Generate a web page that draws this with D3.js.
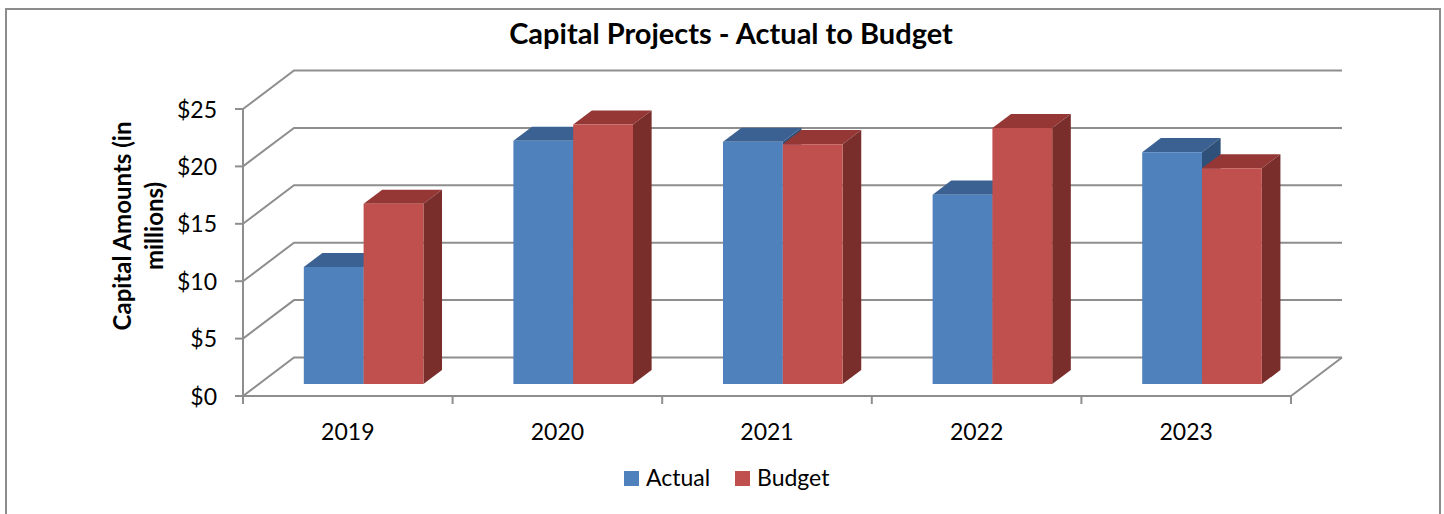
<!DOCTYPE html>
<html>
<head>
<meta charset="utf-8">
<script src="https://cdn.jsdelivr.net/npm/d3@7"></script>
<style>
  html, body { margin: 0; padding: 0; background: #fff; }
  svg { display: block; }
  text { font-family: Lato, "Open Sans", sans-serif; fill: #000; }
</style>
</head>
<body>
<svg id="chart" width="1444" height="514"></svg>
<script>
const title = "Capital Projects - Actual to Budget";
const yTitleLines = ["Capital Amounts (in", "millions)"];
const years = ["2019", "2020", "2021", "2022", "2023"];
const seriesNames = ["Actual", "Budget"];
const actual = [10.2, 21.2, 21.1, 16.5, 20.2];
const budget = [15.7, 22.6, 20.9, 22.3, 18.8];
const yTicks = [0, 5, 10, 15, 20, 25];

const colors = {
  Actual: { front: "#4F81BD", top: "#3A6191", side: "#2F5079" },
  Budget: { front: "#C0504D", top: "#953735", side: "#7A2E2C" }
};

const svg = d3.select("#chart");

// Outer frame
svg.append("rect").attr("x", 6).attr("y", 9).attr("width", 1434).attr("height", 520)
  .attr("fill", "#fff").attr("stroke", "#8c8c8c").attr("stroke-width", 2);

// 3D geometry
const depthX = 51, depthY = 38.5;
const proj = (x, y, f) => [x + depthX * f, y - depthY * f];

const x = d3.scaleBand().domain(years).range([243, 1291]).padding(0);
const y = d3.scaleLinear().domain([0, 25]).range([396, 109]);
const inner = d3.scaleBand().domain(seriesNames).range([0, 119.6]);

const gridColor = "#8e8e8e";
const g = svg.append("g");

// Gridlines: diagonal on left wall and horizontal on back wall
yTicks.forEach(t => {
  const yy = y(t);
  const back = proj(243, yy, 1);
  g.append("path")
    .attr("d", `M${243},${yy}L${back[0]},${back[1]}L${x.range()[1] + depthX},${back[1]}`)
    .attr("fill", "none").attr("stroke", gridColor).attr("stroke-width", 2);
});
// Floor right edge and front edge
{
  const x1 = x.range()[1];
  const b = proj(x1, y(0), 1);
  g.append("path").attr("d", `M${243},${y(0)}L${x1},${y(0)}L${b[0]},${b[1]}`)
    .attr("fill", "none").attr("stroke", gridColor).attr("stroke-width", 2);
}
// Value axis line and ticks
g.append("line").attr("x1", 243).attr("x2", 243).attr("y1", y(25)).attr("y2", y(0))
  .attr("stroke", gridColor).attr("stroke-width", 2);
yTicks.forEach(t => {
  g.append("line").attr("x1", 235).attr("x2", 243).attr("y1", y(t)).attr("y2", y(t))
    .attr("stroke", gridColor).attr("stroke-width", 2);
  g.append("text").attr("x", 217).attr("y", y(t) + 8.5).attr("text-anchor", "end")
    .attr("font-size", 23).text("$" + t);
});
// Category ticks
const bounds = years.map(d => x(d)).concat([x.range()[1]]);
bounds.forEach(bx => {
  g.append("line").attr("x1", bx).attr("x2", bx).attr("y1", y(0)).attr("y2", y(0) + 8)
    .attr("stroke", gridColor).attr("stroke-width", 2);
});
years.forEach(d => {
  g.append("text").attr("x", x(d) + x.bandwidth() / 2).attr("y", 439.5)
    .attr("text-anchor", "middle").attr("font-size", 23).text(d);
});

// Bars
const fFront = 0.31, fBack = 0.675;
const barData = [];
years.forEach((yr, i) => {
  barData.push({ year: yr, series: "Actual", value: actual[i] });
  barData.push({ year: yr, series: "Budget", value: budget[i] });
});
const bars = svg.append("g");
barData.forEach(d => {
  const c = colors[d.series];
  const cx = x(d.year) + x.bandwidth() / 2 - 59.8;
  const x0 = cx + inner(d.series), x1 = x0 + inner.bandwidth();
  const yTop = y(d.value), yBot = y(0);
  const fl = proj(x0, yBot, fFront), fr = proj(x1, yBot, fFront);
  const tl = proj(x0, yTop, fFront), tr = proj(x1, yTop, fFront);
  const btl = proj(x0, yTop, fBack), btr = proj(x1, yTop, fBack);
  const bbr = proj(x1, yBot, fBack);
  const pts = a => a.map(p => p.join(",")).join(" ");
  bars.append("polygon").attr("points", pts([tl, tr, btr, btl])).attr("fill", c.top);
  bars.append("polygon").attr("points", pts([tr, btr, bbr, fr])).attr("fill", c.side);
  bars.append("polygon").attr("points", pts([tl, tr, fr, fl])).attr("fill", c.front);
});

// Title
svg.append("text").attr("x", 731).attr("y", 43.5).attr("text-anchor", "middle")
  .attr("font-size", 29).attr("font-weight", "bold").text(title);

// Y axis title
const yt = svg.append("text").attr("transform", "translate(138,226) rotate(-90)")
  .attr("text-anchor", "middle").attr("font-size", 24).attr("font-weight", "bold");
yTitleLines.forEach((l, i) => {
  yt.append("tspan").attr("x", 0).attr("y", i === 0 ? -7 : 25).text(l);
});

// Legend
const leg = svg.append("g");
const legItems = [{ name: "Actual", x: 624 }, { name: "Budget", x: 735 }];
legItems.forEach(it => {
  leg.append("rect").attr("x", it.x).attr("y", 471).attr("width", 15).attr("height", 15)
    .attr("fill", colors[it.name].front);
  leg.append("text").attr("x", it.x + 22).attr("y", 485.5).attr("font-size", 23).text(it.name);
});
</script>
</body>
</html>
